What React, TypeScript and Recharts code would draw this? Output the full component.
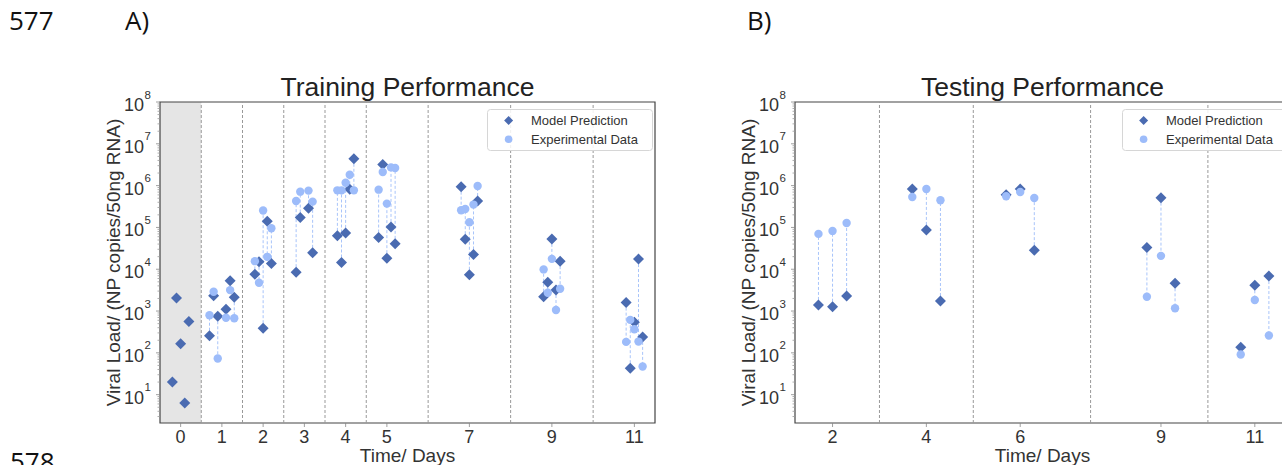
import React from 'react';
import { ScatterChart, Scatter, XAxis, YAxis, ReferenceLine, ReferenceArea, Legend } from 'recharts';

const FONT = '"Liberation Sans", Arial, sans-serif';
const DARK = '#4a6bb1';
const LIGHT = '#9dbcfa';
const LINK = '#a8c4fa';

// Training set: day position (with jitter), model prediction, experimental value
const trainX = [-0.2, -0.1, 0, 0.1, 0.2, 0.7, 0.8, 0.9, 1.1, 1.2, 1.3, 1.8, 1.9, 2.0, 2.1, 2.2, 2.8, 2.9, 3.1, 3.2, 3.8, 3.9, 4.0, 4.1, 4.2, 4.8, 4.9, 5.0, 5.1, 5.2, 6.8, 6.9, 7.0, 7.1, 7.2, 8.8, 8.9, 9.0, 9.1, 9.2, 10.8, 10.9, 11.0, 11.1, 11.2];
const trainPred = [20, 2050, 164, 6.3, 560, 257, 2330, 750, 1100, 5300, 2130, 7540, 15060, 389, 140000, 13800, 8520, 172000, 287000, 24700, 62800, 14500, 74000, 816000, 4390000, 57300, 3210000, 18400, 103000, 40500, 944000, 52300, 7380, 22600, 428000, 2200, 4860, 53200, 3180, 15600, 1590, 43, 541, 17500, 241];
const trainExp = [null, null, null, null, null, 794, 2900, 73, 690, 3170, 675, 15600, 4750, 253000, 19800, 95700, 428000, 717000, 760000, 414000, 771000, 771000, 1170000, 1820000, 771000, 800000, 2110000, 371000, 2730000, 2630000, 257000, 277000, 133000, 352000, 977000, 9900, 2750, 17700, 1060, 3420, 183, 614, 368, 186, 47];
const trainTicks = [0, 1, 2, 3, 4, 5, 7, 9, 11];
const trainDividers = [0.5, 1.5, 2.5, 3.5, 4.5, 6, 8, 10];

// Testing set
const testX = [1.7, 2.0, 2.3, 3.7, 4.0, 4.3, 5.7, 6.0, 6.3, 8.7, 9.0, 9.3, 10.7, 11.0, 11.3];
const testPred = [1400, 1270, 2290, 828000, 87200, 1740, 608000, 828000, 28600, 33200, 516000, 4600, 137, 4120, 6870];
const testExp = [70000, 82500, 128000, 533000, 828000, 445000, 555000, 702000, 505000, 2200, 20900, 1170, 91, 1840, 259];
const testTicks = [2, 4, 6, 9, 11];
const testDividers = [3, 5, 7.5, 10];

const yMajor = [10, 100, 1e3, 1e4, 1e5, 1e6, 1e7, 1e8];
const Y_DOMAIN: [number, number] = [2.1, 1e8];
const yTicks = [1, ...yMajor.slice(0, -1)]
  .flatMap((d) => [1, 2, 3, 4, 5, 6, 7, 8, 9].map((m) => m * d))
  .concat([1e8])
  .filter((v) => v >= Y_DOMAIN[0] && v <= Y_DOMAIN[1]);

const YTick = (props: any) => {
  const { x, y, payload } = props;
  const lg = Math.log10(payload.value);
  const e = Math.round(lg);
  if (Math.abs(lg - e) > 1e-6) {
    return <line x1={x} x2={x - 2.5} y1={y} y2={y} stroke="#999" strokeWidth={0.8} />;
  }
  return (
    <g fontFamily={FONT} fill="#333">
      <line x1={x} x2={x - 4} y1={y} y2={y} stroke="#888" strokeWidth={0.8} />
      <text x={x - 16} y={y + 9} textAnchor="end" fontSize={18}>10</text>
      <text x={x - 15.5} y={y - 3.5} fontSize={11.5}>{e}</text>
    </g>
  );
};

const yLabel = (props: any) => {
  const vb = props.viewBox || {};
  return (
    <text
      transform={`translate(${vb.x + 20},${vb.y + vb.height / 2}) rotate(-90)`}
      textAnchor="middle"
      fontSize={19}
      fill="#333"
      fontFamily={FONT}
    >
      Viral Load/ (NP copies/50ng RNA)
    </text>
  );
};

const Diamond = (p: any) => {
  const r = 5.5;
  const { cx, cy } = p;
  return <polygon points={`${cx},${cy - r} ${cx + r},${cy} ${cx},${cy + r} ${cx - r},${cy}`} fill={DARK} />;
};
const Dot = (p: any) => <circle cx={p.cx} cy={p.cy} r={4.2} fill={LIGHT} />;
const Nothing = () => <g />;

const LegendBox = () => (
  <svg width={166} height={42} style={{ display: 'block' }} fontFamily={FONT}>
    <rect x={0.5} y={0.5} width={165} height={41} rx={3} fill="#fff" fillOpacity={0.85} stroke="#d6d6d6" />
    <polygon points="21.6,7 26.1,11.5 21.6,16 17.1,11.5" fill={DARK} />
    <text x={44} y={16} fontSize={13} fill="#333">Model Prediction</text>
    <circle cx={21.6} cy={30.3} r={3.8} fill={LIGHT} />
    <text x={44} y={35} fontSize={13} fill="#333">Experimental Data</text>
  </svg>
);

interface PanelProps {
  xs: number[];
  pred: number[];
  exp: (number | null)[];
  xDomain: [number, number];
  xTicks: number[];
  dividers: number[];
  shade?: [number, number];
  left: number;
  width: number;
  marginLeft: number;
  marginRight: number;
}

const Panel = ({ xs, pred, exp, xDomain, xTicks, dividers, shade, left, width, marginLeft, marginRight }: PanelProps) => {
  const predPts = xs.map((x, i) => ({ x, y: pred[i] }));
  const expPts = xs.map((x, i) => ({ x, y: exp[i] })).filter((d) => d.y != null);
  const pairs = xs
    .map((x, i) => (exp[i] == null ? null : [{ x, y: pred[i] }, { x, y: exp[i] as number }]))
    .filter((p) => p != null) as { x: number; y: number }[][];
  const plotRight = width - marginRight;
  return (
    <div style={{ position: 'absolute', left, top: 0, width, height: 465 }}>
      <ScatterChart width={width} height={465} margin={{ top: 102, right: marginRight, bottom: 0, left: marginLeft }}>
        <XAxis
          type="number"
          dataKey="x"
          domain={xDomain}
          ticks={xTicks}
          interval={0}
          allowDataOverflow
          axisLine={false}
          tickLine={{ stroke: '#888', strokeWidth: 0.8 }}
          tickSize={4}
          tickMargin={3}
          height={42}
          tick={{ fontSize: 18, fill: '#333', fontFamily: FONT }}
          label={{ value: 'Time/ Days', position: 'insideBottom', offset: 3, fontSize: 19, fill: '#333', fontFamily: FONT }}
        />
        <YAxis
          type="number"
          dataKey="y"
          scale="log"
          domain={Y_DOMAIN}
          ticks={yTicks}
          interval={0}
          allowDataOverflow
          axisLine={false}
          tickLine={false}
          tickSize={0}
          tickMargin={0}
          width={60}
          tick={<YTick />}
          label={yLabel}
        />
        {shade && <ReferenceArea x1={shade[0]} x2={shade[1]} y1={Y_DOMAIN[0]} y2={Y_DOMAIN[1]} fill="#e5e5e5" fillOpacity={1} stroke="none" />}
        {dividers.map((d) => (
          <ReferenceLine key={d} x={d} stroke="#999" strokeDasharray="3 2" strokeWidth={1} />
        ))}
        <ReferenceArea x1={xDomain[0]} x2={xDomain[1]} y1={Y_DOMAIN[0]} y2={Y_DOMAIN[1]} fill="none" stroke="#444" strokeWidth={1.2} />
        {pairs.map((p, i) => (
          <Scatter
            key={'link' + i}
            data={p}
            line={{ stroke: LINK, strokeWidth: 1, strokeDasharray: '3 2' }}
            lineType="joint"
            shape={Nothing}
            legendType="none"
            isAnimationActive={false}
          />
        ))}
        <Scatter name="Model Prediction" data={predPts} shape={Diamond} isAnimationActive={false} />
        <Scatter name="Experimental Data" data={expPts} shape={Dot} isAnimationActive={false} />
        <Legend
          layout="vertical"
          align="center"
          verticalAlign="middle"
          content={LegendBox}
          wrapperStyle={{ left: plotRight - 168.3, top: 109, width: 166, height: 42 }}
        />
      </ScatterChart>
    </div>
  );
};

export default function App() {
  return (
    <div style={{ position: 'absolute', left: 0, top: 0, width: 1282, height: 465, overflow: 'hidden', background: '#fff' }}>
      <Panel
        xs={trainX}
        pred={trainPred}
        exp={trainExp}
        xDomain={[-0.5, 11.5]}
        xTicks={trainTicks}
        dividers={trainDividers}
        shade={[-0.5, 0.5]}
        left={0}
        width={680}
        marginLeft={100}
        marginRight={25}
      />
      <Panel
        xs={testX}
        pred={testPred}
        exp={testExp}
        xDomain={[1.2, 11.75]}
        xTicks={testTicks}
        dividers={testDividers}
        left={680}
        width={640}
        marginLeft={55}
        marginRight={30}
      />
      <svg width={1282} height={465} style={{ position: 'absolute', left: 0, top: 0, pointerEvents: 'none' }}>
        <g fontFamily='"Open Sans", sans-serif' fontSize={26} fill="#111">
          <text x={9} y={30}>577</text>
          <text x={125} y={30}>A)</text>
          <text x={747} y={30}>B)</text>
          <text x={10} y={471}>578</text>
        </g>
        <g fontFamily={FONT} fontSize={26.5} fill="#222" textAnchor="middle">
          <text x={407.5} y={95.5}>Training Performance</text>
          <text x={1042.5} y={95.5}>Testing Performance</text>
        </g>
      </svg>
    </div>
  );
}
